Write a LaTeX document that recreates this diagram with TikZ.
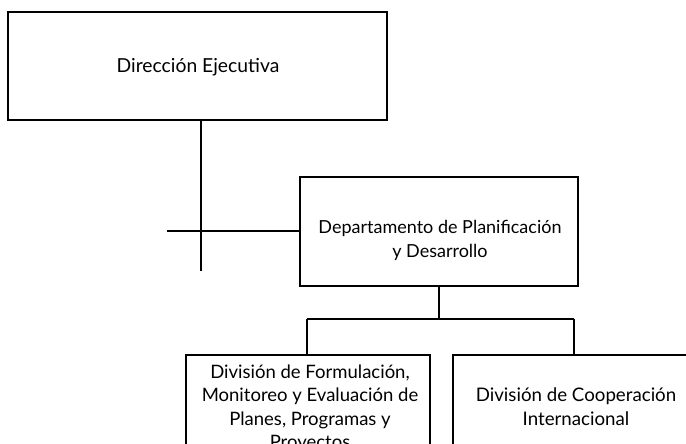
\documentclass[tikz,border=0pt]{standalone}
\usepackage{fontspec}
\setmainfont{Lato}
\begin{document}
\begin{tikzpicture}[x=1pt,y=-1pt,
  box/.style={draw,line width=1.6pt,rectangle,inner sep=0pt},
  lbl/.style={align=center,font=\fontsize{18}{24}\selectfont,inner sep=0pt,anchor=base},
  conn/.style={line width=1.6pt}]
\useasboundingbox (0,0) rectangle (686,444);
\clip (0,0) rectangle (686,444);
% boxes
\draw[box] (8,12) rectangle (387,120);
\node[lbl,font=\fontsize{19.3}{24}\selectfont] (dir) at (198,72.5) {Dirección Ejecutiva};
\coordinate (dirB) at (201,120);
\draw[box] (300,177) rectangle (578,286);
\node[lbl] (dep) at (440,257) {Departamento de Planificación\\y Desarrollo};
\coordinate (depL) at (300,231);
\coordinate (depB) at (439,286);
\draw[box] (186,355) rectangle (430,460);
\node[lbl,font=\fontsize{18.5}{23.5}\selectfont] (div1) at (310,448.5) {División de Formulación,\\Monitoreo y Evaluación de\\Planes, Programas y\\Proyectos};
\draw[box] (453,355) rectangle (700,460);
\node[lbl,font=\fontsize{18.7}{23.5}\selectfont] (div2) at (576,425) {División de Cooperación\\Internacional};
% connectors
\coordinate (vEnd) at (201,271);
\coordinate (hStart) at (167,231);
\draw[conn] (dirB) -- (vEnd);
\draw[conn] (hStart) -- (depL);
\coordinate (split) at (439,319);
\coordinate (sL) at (307,319);
\coordinate (sR) at (574,319);
\coordinate (t1) at (307,355);
\coordinate (t2) at (574,355);
\draw[conn] (depB) -- (split);
\draw[conn] (sL) -- (sR);
\draw[conn] (sL) -- (t1);
\draw[conn] (sR) -- (t2);
\end{tikzpicture}
\end{document}
